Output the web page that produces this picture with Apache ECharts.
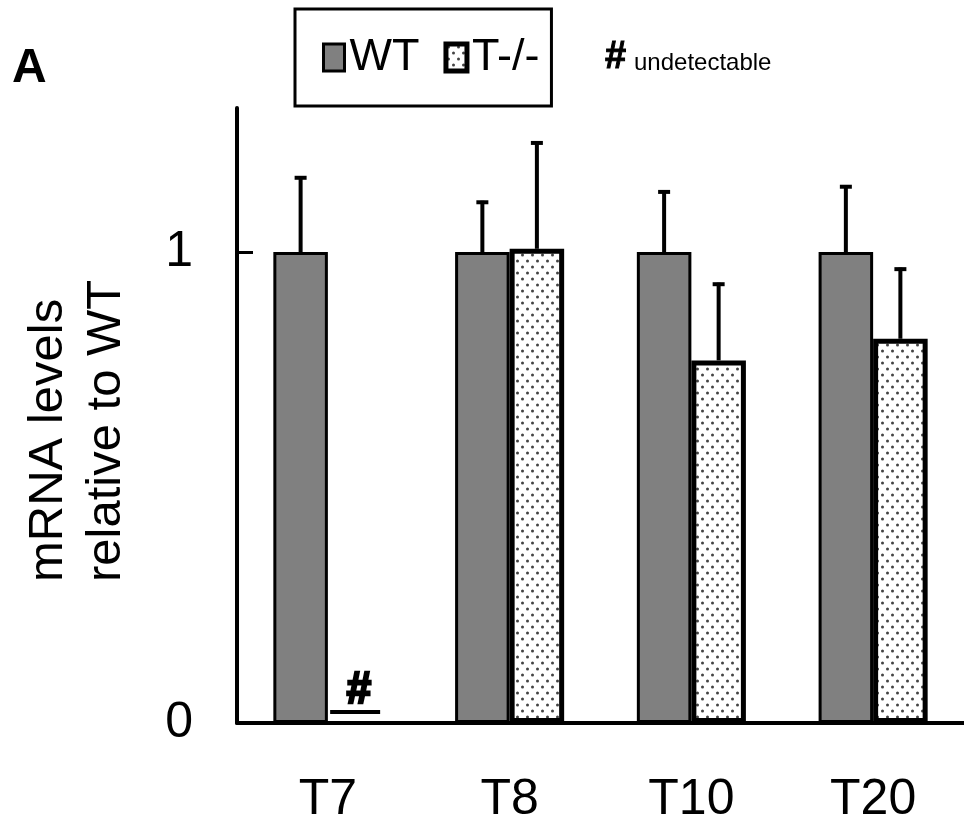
<!DOCTYPE html>
<html>
<head>
<meta charset="utf-8">
<script src="https://cdn.jsdelivr.net/npm/echarts@6/dist/echarts.min.js"></script>
<style>
  html, body { margin: 0; padding: 0; background: #fff; }
  #mrna-chart { width: 964px; height: 827px; }
</style>
</head>
<body>
<div id="mrna-chart"></div>
<script>
// data
var categories = ["T7", "T8", "T10", "T20"];
var wtMean = [1, 1, 1, 1];
var wtErrTop = [1.161, 1.109, 1.131, 1.142];
var koMean = [null, 1.007, 0.770, 0.816];
var koErrTop = [null, 1.235, 0.935, 0.967];
var koUndetectable = [true, false, false, false];
var yTicks = [0, 1];

var FONT = "Liberation Sans, Arial, Helvetica, sans-serif";

// dotted fill for the T-/- bars
function dotPattern() {
  var c = document.createElement("canvas");
  c.width = 10;
  c.height = 12;
  var ctx = c.getContext("2d");
  ctx.fillStyle = "#fff";
  ctx.fillRect(0, 0, 10, 12);
  ctx.fillStyle = "#444";
  [[2.5, 3], [7.5, 9]].forEach(function (p) {
    ctx.beginPath();
    ctx.arc(p[0], p[1], 1.5, 0, Math.PI * 2);
    ctx.fill();
  });
  return c;
}

// upward-only error bar, shifted onto its bar inside the category band
function errorBar(side) {
  return function (params, api) {
    var i = api.value(0);
    var base = api.coord([i, api.value(1)]);
    var top = api.coord([i, api.value(2)]);
    var band = api.size([1, 0])[0];
    var x = base[0] + side * band * 0.15;
    return {
      type: "group",
      children: [
        { type: "line", shape: { x1: x, y1: base[1], x2: x, y2: top[1] },
          style: { stroke: "#000", lineWidth: 4 } },
        { type: "line", shape: { x1: x - 6, y1: top[1] + 1.5, x2: x + 6, y2: top[1] + 1.5 },
          style: { stroke: "#000", lineWidth: 4 } }
      ]
    };
  };
}

function errData(mean, top) {
  var out = [];
  mean.forEach(function (m, i) {
    if (m != null && top[i] != null) out.push([i, m, top[i]]);
  });
  return out;
}

var undetData = [];
koUndetectable.forEach(function (u, i) { if (u) undetData.push([i, 0]); });

var chart = echarts.init(document.getElementById("mrna-chart"));
var pattern = { image: dotPattern(), repeat: "repeat" };

var option = {
  animation: false,
  backgroundColor: "#fff",
  textStyle: { fontFamily: FONT, color: "#000" },
  grid: { left: 237, top: 108, width: 736, height: 615 },
  legend: {
    left: 295,
    top: 9,
    padding: [26, 12, 26, 27],
    itemGap: 24,
    itemWidth: 21,
    itemHeight: 27,
    borderColor: "#000",
    borderWidth: 3,
    borderRadius: 0,
    textStyle: { fontSize: 45, color: "#000", fontFamily: FONT },
    data: [
      { name: "WT", icon: "rect", itemStyle: { color: "#808080", borderColor: "#000", borderWidth: 3 } },
      { name: "T-/-", icon: "rect", itemStyle: { color: pattern, borderColor: "#000", borderWidth: 5 } }
    ]
  },
  graphic: [
    { type: "text", left: 12, top: 45,
      style: { text: "A", fontSize: 48, fontWeight: "bold", fontFamily: FONT, fill: "#000" } },
    { type: "text", x: 605, y: 58,
      style: { text: "#", fontSize: 38, fontWeight: "bold", fontFamily: FONT, fill: "#000",
               stroke: "#000", lineWidth: 1, verticalAlign: "middle" } },
    { type: "text", x: 634, y: 63,
      style: { text: "undetectable", fontSize: 24, fontFamily: FONT, fill: "#000",
               verticalAlign: "middle" } },
    { type: "text", x: 77, y: 582, rotation: Math.PI / 2,
      style: { text: "mRNA levels\nrelative to WT", fontSize: 49, fontFamily: FONT, lineHeight: 58,
               fill: "#000", align: "left", verticalAlign: "middle" } }
  ],
  xAxis: {
    type: "category",
    data: categories,
    axisLine: { lineStyle: { color: "#000", width: 4 } },
    axisTick: { show: false },
    axisLabel: { fontSize: 50, color: "#000", margin: 52, fontFamily: FONT },
    splitLine: { show: false }
  },
  yAxis: {
    type: "value",
    min: 0,
    max: 1.306,
    axisLine: { show: true, lineStyle: { color: "#000", width: 4 } },
    axisTick: { show: true, inside: true, length: 16, customValues: yTicks,
                lineStyle: { color: "#000", width: 3 } },
    axisLabel: { fontSize: 50, color: "#000", margin: 44, customValues: yTicks, fontFamily: FONT },
    splitLine: { show: false }
  },
  series: [
    {
      name: "WT",
      type: "bar",
      data: wtMean,
      barWidth: "30%",
      barGap: "0%",
      itemStyle: { color: "#808080", borderColor: "#000", borderWidth: 3 },
      z: 3
    },
    {
      name: "T-/-",
      type: "bar",
      data: koMean,
      barWidth: "30%",
      barGap: "0%",
      itemStyle: { color: pattern, borderColor: "#000", borderWidth: 5 },
      z: 3
    },
    {
      type: "custom",
      renderItem: errorBar(-1),
      data: errData(wtMean, wtErrTop),
      z: 2
    },
    {
      type: "custom",
      renderItem: errorBar(1),
      data: errData(koMean, koErrTop),
      z: 2
    },
    {
      // "#" with underline where T-/- was undetectable
      type: "custom",
      renderItem: function (params, api) {
        var p = api.coord([api.value(0), api.value(1)]);
        var x = p[0] + api.size([1, 0])[0] * 0.15;
        return {
          type: "group",
          children: [
            { type: "text", x: x + 3, y: p[1] - 32,
              style: { text: "#", font: "italic bold 44px sans-serif", fill: "#000",
                       stroke: "#000", lineWidth: 2.5, align: "center", verticalAlign: "middle" } },
            { type: "line", shape: { x1: x - 25, y1: p[1] - 11, x2: x + 25, y2: p[1] - 11 },
              style: { stroke: "#000", lineWidth: 4 } }
          ]
        };
      },
      data: undetData,
      z: 4
    }
  ]
};

chart.setOption(option);
</script>
</body>
</html>
